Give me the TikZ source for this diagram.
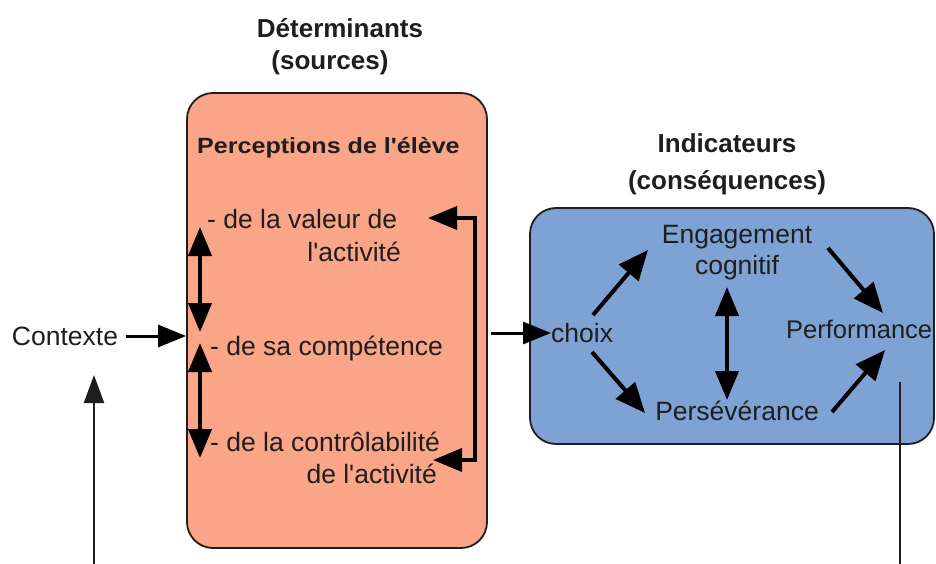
\documentclass[tikz,border=0pt]{standalone}
\usepackage{fontspec}
\setmainfont{Liberation Sans}
\usetikzlibrary{arrows.meta}
\definecolor{salmon}{RGB}{250,164,136}
\definecolor{bluebox}{RGB}{126,162,212}
\definecolor{ink}{RGB}{30,30,30}
\newcommand{\apos}{\textquotesingle}
\tikzset{
  txt/.style={inner sep=0pt, text=ink, font=\fontsize{26.5}{30}\selectfont},
  head/.style={inner sep=0pt, text=ink, font=\bfseries\fontsize{26}{30}\selectfont},
  sub/.style={inner sep=0pt, text=ink, font=\bfseries\fontsize{22}{26}\selectfont},
  thick arrow/.style={line width=4pt, draw=black, -{Triangle[length=30pt,width=25pt]}},
  thick darrow/.style={line width=4pt, draw=black, {Triangle[length=29pt,width=23pt]}-{Triangle[length=29pt,width=23pt]}},
  thin arrow/.style={line width=2.2pt, draw=ink, -{Triangle[length=28pt,width=20pt]}},
  bigbox/.style={draw=ink, line width=1.8pt, rounded corners=26pt, inner sep=0pt},
}
\begin{document}
\begin{tikzpicture}[x=1pt,y=-1pt]
\useasboundingbox (0,0) rectangle (936,564);
% boxes
\node[bigbox, fill=salmon, minimum width=300pt, minimum height=455pt] (obox) at (337,320.5) {};
\node[bigbox, fill=bluebox, minimum width=404pt, minimum height=236pt] (bbox) at (732,326) {};
% headings
\node[head] (det) at (340,28) {Déterminants};
\node[head] (src) at (330,63) {(sources)};
\node[head] (ind) at (727,143) {Indicateurs};
\node[head] (cons) at (727,183) {(conséquences)};
% orange texts
\node[sub, anchor=west] (perc) at (197,148) {\scalebox{1.14}[1]{Perceptions de l\apos élève}};
\node[txt, anchor=west] (val) at (207,219) {- de la valeur de};
\node[txt, anchor=east] (val2) at (401,252) {l\apos activité};
\node[txt, anchor=west] (comp) at (210,348) {- de sa compétence};
\node[txt, anchor=west] (ctrl) at (210,442) {- de la contrôlabilité};
\node[txt, anchor=east] (ctrl2) at (437,474) {de l\apos activité};
\node[txt] (ctx) at (65,336) {Contexte};
% blue texts
\node[txt, anchor=west] (choix) at (551,333) {choix};
\node[txt] (eng) at (737,237) {Engagement};
\node[txt] (cog) at (737,268) {cognitif};
\node[txt] (pers) at (737,411) {Persévérance};
\node[txt, anchor=west, font=\fontsize{25.5}{30}\selectfont] (perf) at (786,329) {Performance};
% coordinates
\coordinate (v1) at (200,227);
\coordinate (v2) at (200,332);
\coordinate (v3) at (200,343);
\coordinate (v4) at (200,458);
\coordinate (b1) at (428,218);
\coordinate (b2) at (475,218);
\coordinate (b3) at (475,460);
\coordinate (b4) at (433,460);
\coordinate (up0) at (94,564);
\coordinate (up1) at (94,375);
\coordinate (dn0) at (900,382);
\coordinate (dn1) at (900,564);
% arrows
\draw[line width=3pt, -{Triangle[length=28pt,width=22pt]}] (ctx.east) ++(8,0) -- (ctx.east -| obox.west);
\draw[thick darrow] (v1) -- (v2);
\draw[thick darrow] (v3) -- (v4);
\draw[thick darrow, line width=3.5pt] (b1) -- (b2) -- (b3) -- (b4);
\draw[line width=3pt, -{Triangle[length=28pt,width=22pt]}] (obox.east |- choix.west) ++(3,0) -- (choix.west);
\draw[thick arrow] (593,315) -- (648,250);
\draw[thick arrow] (592,352) -- (645,413);
\draw[thick darrow] (727,287) -- (727,400);
\draw[thick arrow] (828,248) -- (883,313);
\draw[thick arrow] (832,412) -- (885,350);
\draw[thin arrow] (up0) -- (up1);
\draw[line width=2.2pt, draw=ink] (dn0) -- (dn1);
\end{tikzpicture}
\end{document}
